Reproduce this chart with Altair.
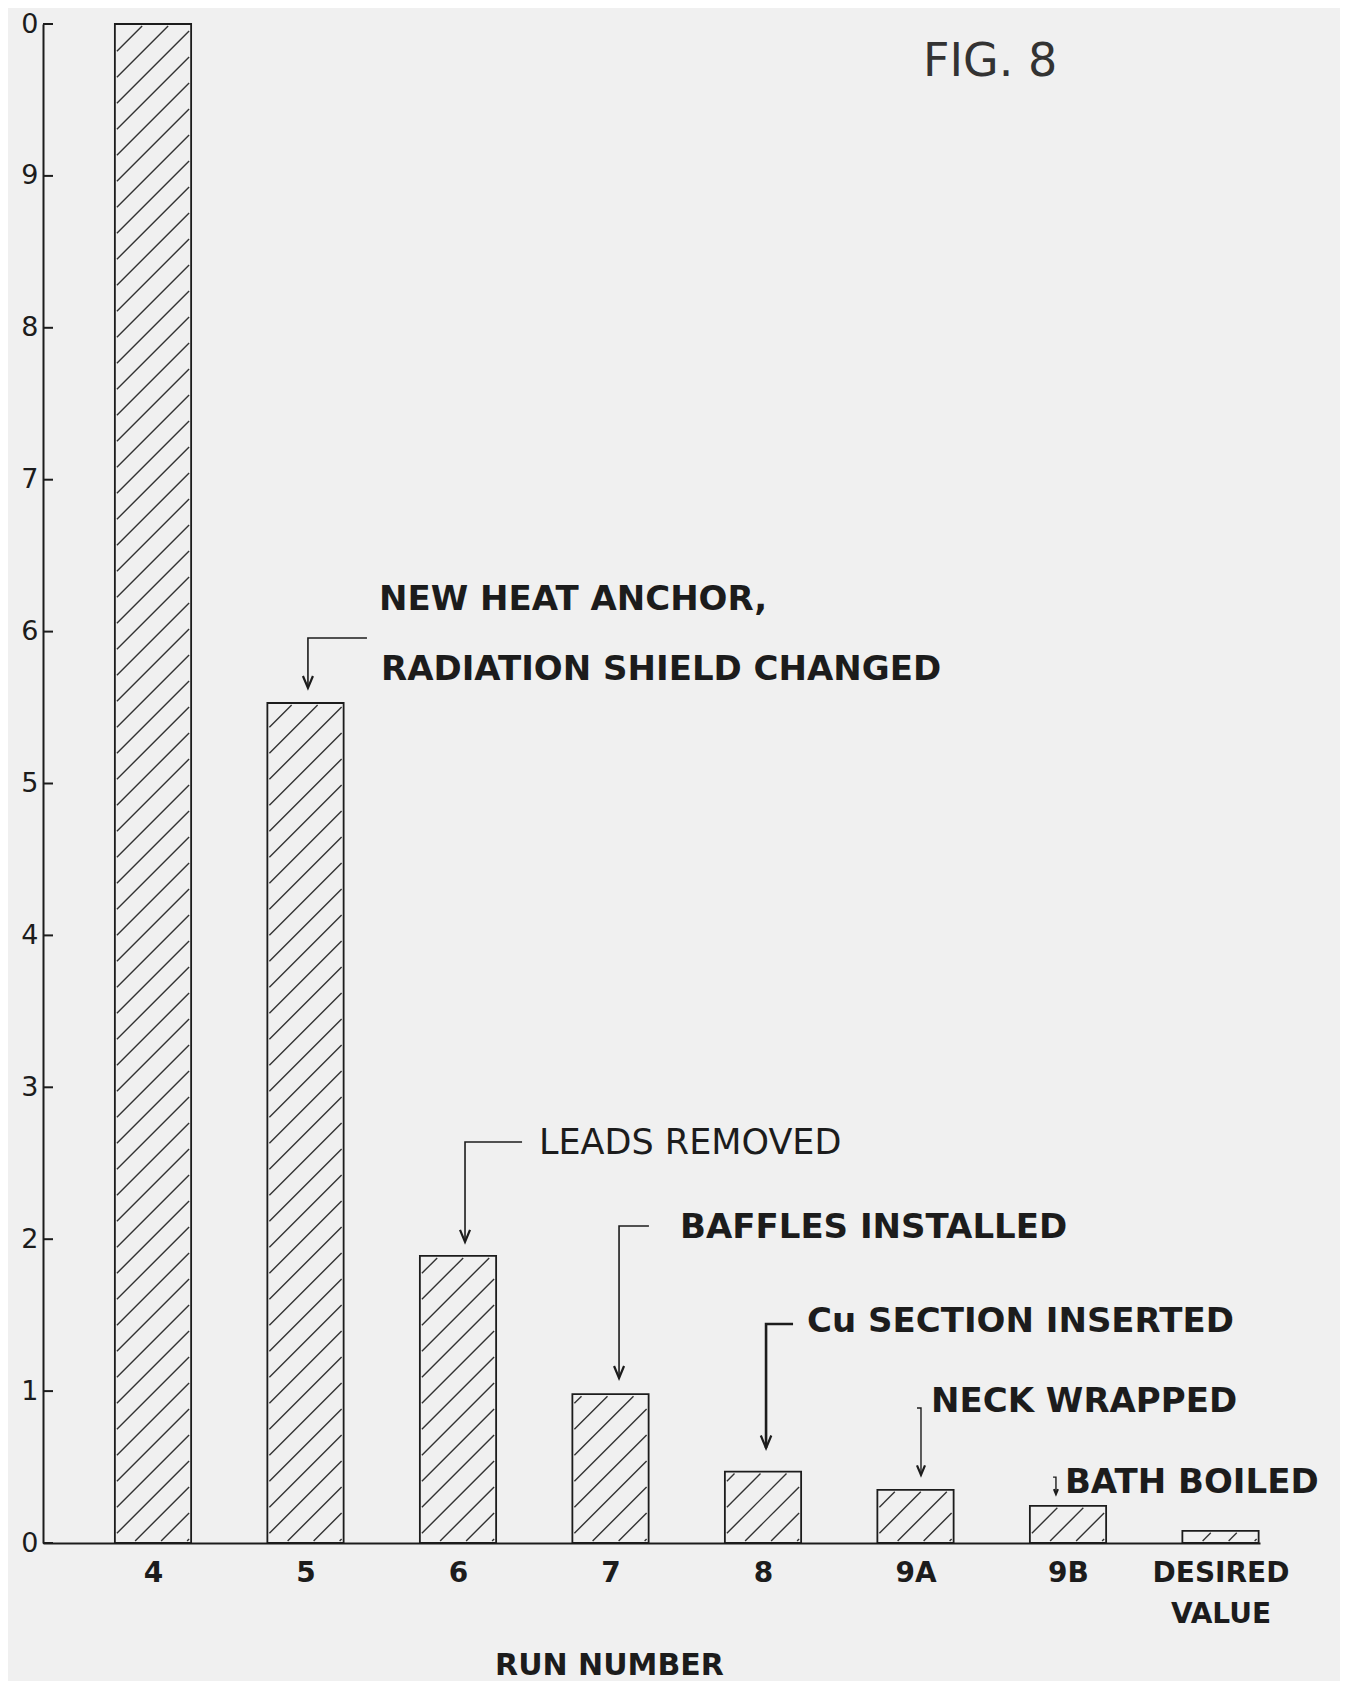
import json
import altair as alt
import pandas as pd

# ---------------- data ----------------
runs = ["4", "5", "6", "7", "8", "9A", "9B", "DESIRED VALUE"]
values = [10.0, 5.53, 1.89, 0.98, 0.47, 0.35, 0.245, 0.08]
y_ticks = list(range(0, 11))

ann_text = ["NEW HEAT ANCHOR,", "RADIATION SHIELD CHANGED", "LEADS REMOVED",
            "BAFFLES INSTALLED", "Cu SECTION INSERTED", "NECK WRAPPED", "BATH BOILED"]
ann_x = [1.482, 1.495, 2.531, 3.456, 4.289, 5.102, 5.980]
ann_y = [6.208, 5.750, 2.633, 2.074, 1.455, 0.928, 0.395]
ann_weight = ["bold", "bold", "normal", "bold", "bold", "bold", "bold"]

# leader lines of the annotations (x in run-index units, y in value units)
leader_x = [[1.403, 1.016, 1.016], [2.420, 2.046, 2.046], [3.252, 3.056, 3.056],
            [4.197, 4.020, 4.020], [5.010, 5.036, 5.036], [5.902, 5.921, 5.921]]
leader_y = [[5.958, 5.958, 5.629], [2.640, 2.640, 1.982], [2.087, 2.087, 1.086],
            [1.442, 1.442, 0.625], [0.889, 0.889, 0.448], [0.434, 0.434, 0.323]]
leader_width = [1.6, 1.6, 1.6, 2.6, 1.4, 1.4]
head_size = [100, 100, 100, 110, 64, 16]

fig_label = "FIG. 8"
fig_x, fig_y = 5.049, 9.753

# ---------------- styling constants ----------------
FONT = "DejaVu Sans"
INK = "#1c1c1c"
BG = "#f0f0f0"
XPX, YPX = 152.5, 151.9      # pixels per unit on x and y
HALF = 0.25                  # half bar width in run-index units
HATCH_SP = 26                # vertical hatch spacing in px
INSET = 2

W, H = 1217, 1519
x_scale = alt.Scale(domain=[-0.7213, 7.259], nice=False, zero=False)
y_scale = alt.Scale(domain=[0, 10], nice=False, zero=False)

# ---------------- tables ----------------
bars = pd.DataFrame({
    "run": runs,
    "idx": list(range(len(runs))),
    "value": values,
})
bars["lo"] = bars["idx"] - HALF
bars["hi"] = bars["idx"] + HALF
bars["zero"] = 0.0

hatch_rows = []
for i, v in enumerate(values):
    xl = i - HALF
    bw = 2 * HALF * XPX
    hpx = v * YPX
    c = -bw + 6
    while c < hpx:
        u1 = max(INSET, INSET - c)
        u2 = min(bw - INSET, hpx - INSET - c)
        if u2 - u1 > 1.5:
            hatch_rows.append({"x": xl + u1 / XPX, "y": (u1 + c) / YPX,
                               "x2": xl + u2 / XPX, "y2": (u2 + c) / YPX})
        c += HATCH_SP
hatch = pd.DataFrame(hatch_rows)

lead_rows = []
head_rows = []
for k, (xs, ys) in enumerate(zip(leader_x, leader_y)):
    for j, (xx, yy) in enumerate(zip(xs, ys)):
        lead_rows.append({"id": k, "o": j, "x": xx, "y": yy, "w": leader_width[k]})
    head_rows.append({"x": xs[-1], "y": ys[-1], "s": head_size[k]})
leads = pd.DataFrame(lead_rows)
heads = pd.DataFrame(head_rows)

ann = pd.DataFrame({"t": ann_text, "x": ann_x, "y": ann_y, "w": ann_weight})
ticks = pd.DataFrame({"t": y_ticks})
fig = pd.DataFrame({"t": [fig_label], "x": [fig_x], "y": [fig_y]})

runs_js = json.dumps(runs)
x_axis = alt.Axis(
    values=list(range(len(runs))),
    labelExpr=f"split({runs_js}[round(datum.value)], ' ')",
    tickSize=0, grid=False, labelFlush=False, labelOverlap=False, labelBound=False,
    labelFont=FONT, labelFontSize=28, labelFontWeight="bold", labelColor=INK,
    labelPadding=16, labelBaseline="top", labelLineHeight=41,
    domainColor=INK, domainWidth=2,
    title="RUN NUMBER", titleFont=FONT, titleFontSize=30, titleFontWeight="bold",
    titleColor=INK, titleX=566, titleY=122, titleBaseline="middle", titleAlign="center",
)
y_axis = alt.Axis(
    values=y_ticks, labelExpr="datum.value == 10 ? '0' : datum.label",
    tickSize=0, grid=False, labelFont=FONT, labelFontSize=27, labelColor=INK,
    labelPadding=5, domainColor=INK, domainWidth=2, title="",
)


def X(field):
    return alt.X(field, scale=x_scale, axis=x_axis)


def Y(field):
    return alt.Y(field, scale=y_scale, axis=y_axis)


bar_layer = alt.Chart(bars).mark_rect(fill=BG, stroke=INK, strokeWidth=1.8).encode(
    x=X("lo:Q"), x2="hi:Q", y=Y("zero:Q"), y2="value:Q",
)

hatch_layer = alt.Chart(hatch).mark_rule(color="#333333", strokeWidth=1.4).encode(
    x=X("x:Q"), x2="x2:Q", y=Y("y:Q"), y2="y2:Q",
)

tick_layer = alt.Chart(ticks).mark_rule(color=INK, strokeWidth=2).encode(
    y=Y("t:Q"), x=alt.value(0), x2=alt.value(10),
)

lead_layer = alt.Chart(leads).mark_line(color=INK, strokeCap="butt").encode(
    x=X("x:Q"), y=Y("y:Q"),
    detail="id:N", order="o:Q",
    strokeWidth=alt.StrokeWidth("w:Q", scale=None),
)

head_layer = alt.Chart(heads).mark_point(
    shape="M -1 -2.4 L 0 0 L 1 -2.4", filled=False, stroke=INK, strokeWidth=2.2, opacity=1
).encode(
    x=X("x:Q"), y=Y("y:Q"),
    size=alt.Size("s:Q", scale=None),
)

ann_bold = alt.Chart(ann).transform_filter("datum.w == 'bold'").mark_text(
    font=FONT, fontSize=34, fontWeight="bold", align="left", baseline="middle", color=INK
).encode(x=X("x:Q"), y=Y("y:Q"), text="t:N")

ann_normal = alt.Chart(ann).transform_filter("datum.w != 'bold'").mark_text(
    font=FONT, fontSize=35, fontWeight="normal", align="left", baseline="middle", color=INK
).encode(x=X("x:Q"), y=Y("y:Q"), text="t:N")

fig_layer = alt.Chart(fig).mark_text(
    font=FONT, fontSize=46, align="left", baseline="middle", color="#333333"
).encode(x=X("x:Q"), y=Y("y:Q"), text="t:N")

chart = alt.layer(
    bar_layer, hatch_layer, tick_layer, lead_layer, head_layer, ann_bold, ann_normal, fig_layer
).properties(
    width=W, height=H,
    background=BG,
    padding={"left": 35, "top": 16, "right": 80, "bottom": 138},
    autosize=alt.AutoSizeParams(type="none"),
).configure_view(stroke=None)

chart.save("out.html", embed_options={"renderer": "svg", "actions": False})
